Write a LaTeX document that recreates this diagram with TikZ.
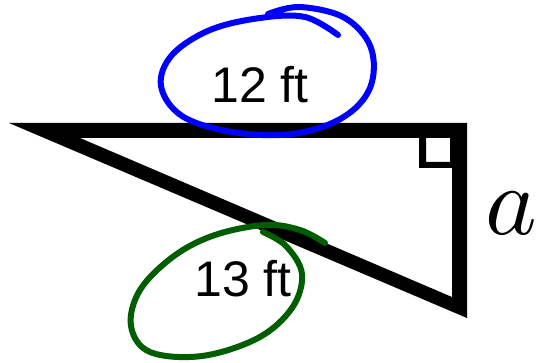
\documentclass[tikz,border=0pt]{standalone}
\usepackage{fontspec}
\newfontfamily\labelfont{Liberation Sans}
\font\sidefont=cmmi10 at 98pt
\definecolor{ringblue}{HTML}{0000FF}
\definecolor{ringgreen}{HTML}{005E00}
\usetikzlibrary{positioning}
\tikzset{
	sidefill/.style={
			fill=black,
			even odd rule
		},
	ftlabel/.style={
			inner sep=0pt,
			font=\labelfont\fontsize{50}{60}\selectfont
		},
	sidelabel/.style={
			inner sep=0pt,
			font=\sidefont
		},
	bluering/.style={
			draw=ringblue,
			line width=6pt,
			line cap=round,
			line join=round
		},
	greenring/.style={
			draw=ringgreen,
			line width=6pt,
			line cap=round,
			line join=round
		}
}
\begin{document}
\begin{tikzpicture}[x=1pt, y=-1pt]
	\useasboundingbox (0,0) rectangle (540,363);

	% triangle sides
	\fill[sidefill] (9,123) -- (467,123) -- (467,318) -- cycle
		(80,138) -- (452,138) -- (452,297) -- cycle;
	% right angle mark
	\fill[sidefill] (419,138) rectangle (452,168)
		(426,138) rectangle (450,162);

	\node[ftlabel] (twelve) at (260,85) {12 ft};
	\node[ftlabel] (thirteen) at (243,279) {13 ft};
	\node[sidelabel] (side) at (511,213) {a};

	% hand drawn rings
	\draw[bluering] plot[smooth, tension=0.6] coordinates {
		(268,14) (300,7) (345,18) (371,48) (370,88) (342,118) (292,134)
		(232,132) (182,116) (161,86) (172,55) (210,30) (260,18) (305,17) (338,35)};
	\draw[greenring] plot[smooth, tension=0.6] coordinates {
		(263,232) (286,246) (302,274) (292,308) (258,338) (202,356) (150,352)
		(131,326) (140,290) (174,256) (215,235) (265,225) (300,230) (325,243)};
\end{tikzpicture}
\end{document}
